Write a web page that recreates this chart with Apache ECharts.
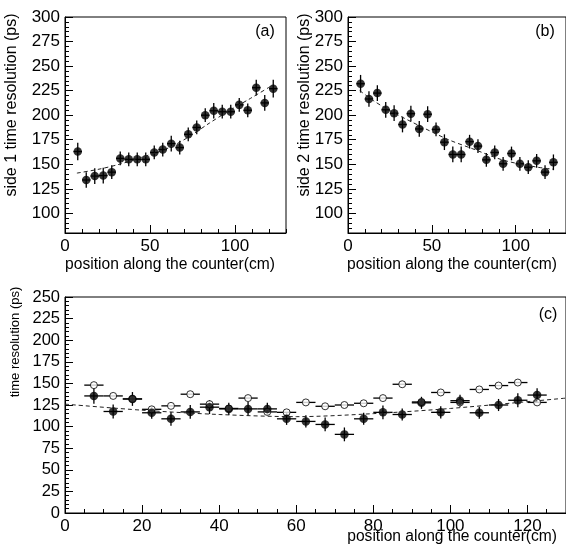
<!DOCTYPE html>
<html lang="en">
<head>
<meta charset="UTF-8">
<title>time resolution</title>
<script src="https://cdn.jsdelivr.net/npm/echarts@6/dist/echarts.min.js"></script>
</head>
<body style="margin:0;background:#fff">
<div id="main" style="width:566px;height:546px;"></div>
<script>
// bin centres along the counter (cm)
var pos = [7.5, 12.5, 17.5, 22.5, 27.5, 32.5, 37.5, 42.5, 47.5, 52.5, 57.5, 62.5,
           67.5, 72.5, 77.5, 82.5, 87.5, 92.5, 97.5, 102.5, 107.5, 112.5, 117.5, 122.5];
var binHalf = 2.5;

// (a) side 1
var side1 = [163, 134, 138, 138.5, 142, 156, 155, 155, 155, 162, 165, 171,
             167, 180.5, 187.5, 200, 204.5, 203.5, 203.5, 210.5, 205, 228, 212.5, 227];
var side1Err = [9, 8, 8, 8, 7, 7, 7, 7, 7, 7, 7, 8, 7, 7, 7, 7, 8, 7, 7, 7, 7, 8, 8, 9];
var fitA = [[7, 141], [20, 145], [32, 150], [45, 157], [60, 166], [72, 177],
            [85, 192], [97, 205], [109, 217], [122.5, 231]];

// (b) side 2
var side2 = [232, 216.5, 222.5, 205.5, 202, 190.5, 201.5, 186, 201, 185.5, 172.5, 160,
             160, 173, 168.5, 154.5, 162, 150.5, 161, 150.5, 147, 153.5, 142, 152];
var side2Err = [9, 8, 8, 8, 8, 8, 8, 8, 8, 7, 8, 8, 8, 7, 7, 7, 7, 7, 7, 7, 7, 7, 7, 8];
var fitB = [[7, 225], [15, 215], [24.5, 205], [44, 188], [60, 175], [74, 166],
            [93, 154], [113, 147], [122.5, 145]];

// (c) combined
var fillC = [135.5, 117.5, 132, 116, 109, 117, 122.5, 120.5, 120.5, 120.5, 109, 106,
             102.5, 91, 109, 116.5, 114, 127.5, 116.5, 130, 116, 125, 130.5, 136.5];
var fillCErr = [9, 8, 8, 7, 8, 8, 8, 7, 8, 7, 7, 7, 8, 8, 7, 8, 7, 7, 7, 7, 7, 7, 8, 8];
var openC = [148, 135.5, 132, 120, 124, 137.5, 126, 121, 133, 117, 116.5, 128,
             123.5, 125, 127, 133, 149, 128.5, 139.5, 128, 143, 147.5, 151, 128];
var fitC = [[0, 126], [20, 119], [40, 114], [60, 111.5], [80, 115], [100, 121], [130, 133]];

// tick labels
var xTicksTop = [0, 50, 100];
var yTicksTop = [100, 125, 150, 175, 200, 225, 250, 275, 300];
var xTicksBottom = [0, 20, 40, 60, 80, 100, 120];
var yTicksBottom = [0, 25, 50, 75, 100, 125, 150, 175, 200, 225, 250];

var FONT = 'Liberation Sans';

function pts(vals, errs) {
    return pos.map(function (x, i) { return [x, vals[i], errs ? errs[i] : 0]; });
}

function errBars(params, api) {
    var x = api.value(0), y = api.value(1), e = api.value(2);
    var a = api.coord([x - binHalf, y]), b = api.coord([x + binHalf, y]);
    var st = { stroke: '#000', lineWidth: 1.3 };
    var kids = [{ type: 'line', shape: { x1: a[0], y1: a[1], x2: b[0], y2: b[1] }, style: st }];
    if (e > 0) {
        var c = api.coord([x, y - e]), d = api.coord([x, y + e]);
        kids.push({ type: 'line', shape: { x1: c[0], y1: c[1], x2: d[0], y2: d[1] }, style: st });
    }
    return { type: 'group', children: kids };
}

function mainX(grid, ticks, size) {
    return {
        type: 'value', gridIndex: grid, min: 0, max: 130, position: 'bottom',
        axisLine: { lineStyle: { color: '#000', width: 1 } },
        axisTick: { inside: true, length: 8, customValues: ticks, lineStyle: { color: '#000' } },
        axisLabel: { customValues: ticks, color: '#000', fontSize: size, fontFamily: FONT, margin: 5 },
        splitLine: { show: false }
    };
}
function minorX(grid, step) {
    return {
        type: 'value', gridIndex: grid, min: 0, max: 130, interval: step, position: 'bottom',
        axisLine: { show: false },
        axisTick: { inside: true, length: 4, lineStyle: { color: '#000' } },
        axisLabel: { show: false }, splitLine: { show: false }
    };
}
function mainY(grid, lo, hi, ticks, size) {
    return {
        type: 'value', gridIndex: grid, min: lo, max: hi, position: 'left',
        axisLine: { show: true, lineStyle: { color: '#000', width: 1 } },
        axisTick: { show: true, inside: true, length: 8, customValues: ticks, lineStyle: { color: '#000' } },
        axisLabel: { customValues: ticks, color: '#000', fontSize: size, fontFamily: FONT, margin: 5 },
        splitLine: { show: false }
    };
}
function minorY(grid, lo, hi) {
    return {
        type: 'value', gridIndex: grid, min: lo, max: hi, interval: 5, position: 'left',
        axisLine: { show: false },
        axisTick: { show: true, inside: true, length: 4, lineStyle: { color: '#000' } },
        axisLabel: { show: false }, splitLine: { show: false }
    };
}

var dashed = { color: '#222', width: 1, type: [4, 3] };

var myChart = echarts.init(document.getElementById('main'));
myChart.setOption({
    animation: false,
    backgroundColor: '#fff',
    grid: [
        { left: 65, top: 17, width: 221, height: 216, show: true, borderColor: '#000', borderWidth: 1 },
        { left: 348, top: 17, width: 221, height: 216, show: true, borderColor: '#000', borderWidth: 1 },
        { left: 65, top: 297, width: 503, height: 216, show: true, borderColor: '#000', borderWidth: 1 }
    ],
    xAxis: [
        mainX(0, xTicksTop, 17), minorX(0, 10),
        mainX(1, xTicksTop, 17), minorX(1, 10),
        mainX(2, xTicksBottom, 17), minorX(2, 5)
    ],
    yAxis: [
        mainY(0, 80, 300, yTicksTop, 17), minorY(0, 80, 300),
        mainY(1, 80, 300, yTicksTop, 17), minorY(1, 80, 300),
        mainY(2, 0, 250, yTicksBottom, 16.5), minorY(2, 0, 250)
    ],
    series: [
        // (a)
        { type: 'line', xAxisIndex: 0, yAxisIndex: 0, data: fitA, smooth: 0.3, symbol: 'none', lineStyle: dashed },
        { type: 'custom', xAxisIndex: 0, yAxisIndex: 0, data: pts(side1, side1Err), renderItem: errBars },
        { type: 'scatter', xAxisIndex: 0, yAxisIndex: 0, data: pts(side1), symbolSize: 8.5, itemStyle: { color: '#000' } },
        // (b)
        { type: 'line', xAxisIndex: 2, yAxisIndex: 2, data: fitB, smooth: 0.3, symbol: 'none', lineStyle: dashed },
        { type: 'custom', xAxisIndex: 2, yAxisIndex: 2, data: pts(side2, side2Err), renderItem: errBars },
        { type: 'scatter', xAxisIndex: 2, yAxisIndex: 2, data: pts(side2), symbolSize: 8.5, itemStyle: { color: '#000' } },
        // (c)
        { type: 'line', xAxisIndex: 4, yAxisIndex: 4, data: fitC, smooth: 0.3, symbol: 'none', lineStyle: dashed },
        { type: 'custom', xAxisIndex: 4, yAxisIndex: 4, data: pts(openC), renderItem: errBars },
        { type: 'scatter', xAxisIndex: 4, yAxisIndex: 4, data: pts(openC), symbolSize: 7,
          itemStyle: { color: '#fff', borderColor: '#000', borderWidth: 1 } },
        { type: 'custom', xAxisIndex: 4, yAxisIndex: 4, data: pts(fillC, fillCErr), renderItem: errBars },
        { type: 'scatter', xAxisIndex: 4, yAxisIndex: 4, data: pts(fillC), symbolSize: 8.5, itemStyle: { color: '#000' } }
    ],
    graphic: [
        { type: 'text', x: 265, y: 32, style: { text: '(a)', font: '16px ' + FONT, fill: '#000', align: 'center', verticalAlign: 'middle' } },
        { type: 'text', x: 545, y: 32, style: { text: '(b)', font: '16px ' + FONT, fill: '#000', align: 'center', verticalAlign: 'middle' } },
        { type: 'text', x: 548, y: 315, style: { text: '(c)', font: '16px ' + FONT, fill: '#000', align: 'center', verticalAlign: 'middle' } },
        { type: 'text', x: 12, y: 105, rotation: Math.PI / 2,
          style: { text: 'side 1 time resolution (ps)', font: '16px ' + FONT, fill: '#000', align: 'center', verticalAlign: 'middle' } },
        { type: 'text', x: 305, y: 105, rotation: Math.PI / 2,
          style: { text: 'side 2 time resolution (ps)', font: '16px ' + FONT, fill: '#000', align: 'center', verticalAlign: 'middle' } },
        { type: 'text', x: 15, y: 342, rotation: Math.PI / 2,
          style: { text: 'time resolution (ps)', font: '13px ' + FONT, fill: '#000', align: 'center', verticalAlign: 'middle' } },
        { type: 'text', x: 170, y: 265,
          style: { text: 'position along the counter(cm)', font: '15.6px ' + FONT, fill: '#000', align: 'center', verticalAlign: 'middle' } },
        { type: 'text', x: 452, y: 265,
          style: { text: 'position along the counter(cm)', font: '15.6px ' + FONT, fill: '#000', align: 'center', verticalAlign: 'middle' } },
        { type: 'text', x: 557, y: 537,
          style: { text: 'position along the counter(cm)', font: '15.6px ' + FONT, fill: '#000', align: 'right', verticalAlign: 'middle' } }
    ]
});
</script>
</body>
</html>
